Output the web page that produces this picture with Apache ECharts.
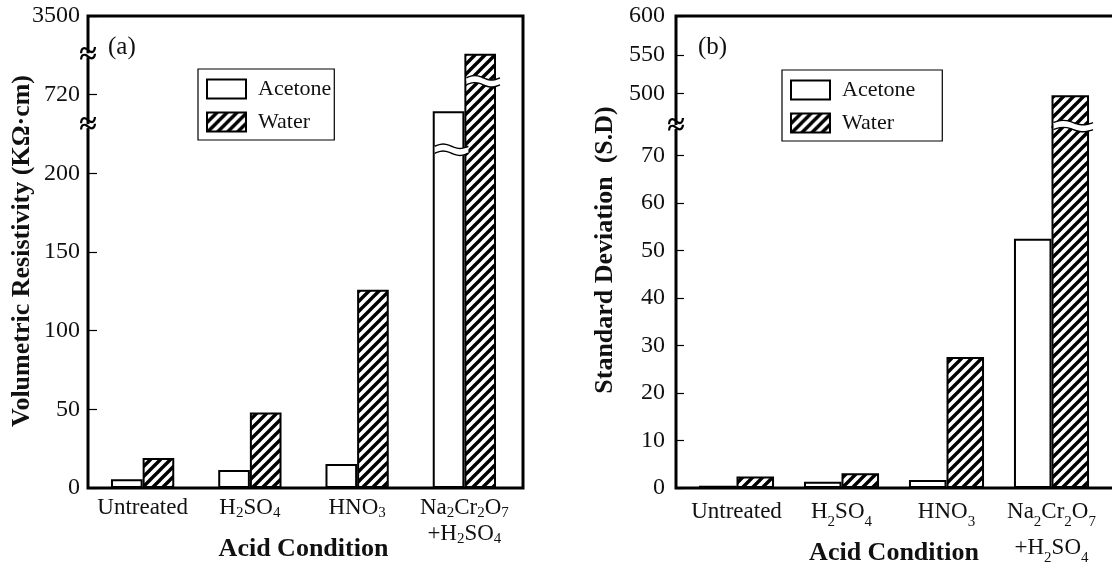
<!DOCTYPE html>
<html>
<head>
<meta charset="utf-8">
<script src="https://cdn.jsdelivr.net/npm/echarts@6.0.0/dist/echarts.min.js"></script>
<style>
  html, body { margin: 0; padding: 0; background: #fff; }
  #chart { width: 1112px; height: 565px; }
</style>
</head>
<body>
<div id="chart"></div>
<script>
var categories = ['Untreated', 'H2SO4', 'HNO3', 'Na2Cr2O7\n+H2SO4'];
var seriesNames = ['Acetone', 'Water'];

// (a) volumetric resistivity, KΩ·cm (broken axis)
var resistAcetone = [5.5, 11.4, 15.2, 709.5];
var resistWater = [19, 48, 126, 3476];
var resistTicks = [0, 50, 100, 150, 200, 720, 3500];
var resistBreaks = [[230, 700], [745, 3475]];
var resistWaves = [[3, 215, 0], [3, 728.5, 1]];   // [category, value, bar]

// (b) standard deviation (two stacked ranges)
var sdAcetone = [0.5, 1.3, 1.7, 52.5];
var sdWater = [2.4, 3.1, 27.6, 498];
var sdTicksLow = [0, 10, 20, 30, 40, 50, 60, 70];
var sdTicksHigh = [500, 550, 600];
var sdLowRange = [0, 76];
var sdHighRange = [457, 600];
var sdWaves = [[3, 76.2, 1]];

var FONT = '"Liberation Serif", "Times New Roman", serif';
var INK = '#111';

var chart = echarts.init(document.getElementById('chart'));

// diagonal hatch for the water bars
function hatch() {
  var c = document.createElement('canvas');
  c.width = 10; c.height = 10;
  var g = c.getContext('2d');
  g.fillStyle = '#fff';
  g.fillRect(0, 0, 10, 10);
  g.strokeStyle = '#000';
  g.lineWidth = 3.4;
  g.beginPath();
  g.moveTo(-2, 12); g.lineTo(12, -2);
  g.moveTo(-2, 2); g.lineTo(2, -2);
  g.moveTo(8, 12); g.lineTo(12, 8);
  g.stroke();
  return c;
}
var styles = [
  { color: '#fff', borderColor: '#000', borderWidth: 2 },
  { color: { image: hatch(), repeat: 'repeat' }, borderColor: '#000', borderWidth: 2 }
];

// H2SO4 -> rich text with subscripts
function chem(s) {
  return s.split('\n').map(function (line) {
    return line.replace(/([^\d]+)|(\d+)/g, function (m, a, d) {
      return a ? '{n|' + a + '}' : '{s|' + d + '}';
    });
  }).join('\n');
}
function rich(lh) {
  return {
    n: { fontFamily: FONT, fontSize: 23, lineHeight: lh, color: INK },
    s: { fontFamily: FONT, fontSize: 15, lineHeight: 14, verticalAlign: 'bottom', color: INK }
  };
}

function frameGrid(left, width) {
  return { left: left, top: 16, width: width, height: 472, show: true,
    borderColor: '#000', borderWidth: 3, backgroundColor: 'transparent', z: 10,
    containLabel: false, outerBoundsMode: 'none' };
}
function plainGrid(left, top, width, height) {
  return { left: left, top: top, width: width, height: height,
    containLabel: false, outerBoundsMode: 'none' };
}

function valueAxis(grid, range, ticks, offset, margin) {
  return {
    type: 'value', gridIndex: grid, min: range[0], max: range[1], offset: offset,
    splitLine: { show: false },
    axisLine: { show: false },
    axisTick: { show: true, inside: true, length: 8, customValues: ticks,
      lineStyle: { color: '#000', width: 1.2 } },
    axisLabel: { customValues: ticks, margin: margin,
      formatter: function (v) { return String(v); },
      fontFamily: FONT, fontSize: 24, color: INK }
  };
}
function catAxis(grid, showLabels, lh, margin, nameGap) {
  var ax = {
    type: 'category', gridIndex: grid, data: categories,
    axisLine: { show: false }, axisTick: { show: false },
    axisLabel: { show: showLabels, interval: 0, margin: margin,
      formatter: chem, rich: rich(lh) }
  };
  if (showLabels) {
    ax.name = 'Acid Condition';
    ax.nameLocation = 'middle';
    ax.nameGap = nameGap;
    ax.nameMoveOverlap = false;
    ax.nameTextStyle = { fontFamily: FONT, fontSize: 26, fontWeight: 'bold', color: INK };
  }
  return ax;
}

function bars(axisIdx, values, k, gap) {
  return {
    type: 'bar', name: seriesNames[k], xAxisIndex: axisIdx, yAxisIndex: axisIdx,
    data: values, barGap: '0%', barCategoryGap: gap, clip: true,
    itemStyle: styles[k], silent: true
  };
}

// white wavy cut drawn across a bar
function waves(axisIdx, data, gapFrac) {
  return {
    type: 'custom', xAxisIndex: axisIdx, yAxisIndex: axisIdx, z: 6, silent: true,
    data: data,
    renderItem: function (params, api) {
      var p = api.coord([api.value(0), api.value(1)]);
      var bw = api.size([1, 0])[0] * (1 - gapFrac) / 2;
      var x0 = (api.value(2) ? p[0] : p[0] - bw) + 2;
      var x1 = x0 + bw + 2;
      var top = [], bot = [], n = 12;
      for (var i = 0; i <= n; i++) {
        var x = x0 + (x1 - x0) * i / n;
        var dy = 2.2 * Math.sin(2 * Math.PI * i / n);
        top.push([x, p[1] - 3.5 - dy]);
        bot.push([x, p[1] + 3.5 - dy]);
      }
      var line = { stroke: '#000', lineWidth: 1.4, fill: null };
      return { type: 'group', children: [
        { type: 'polygon', shape: { points: top.concat(bot.slice().reverse()) }, style: { fill: '#fff' } },
        { type: 'polyline', shape: { points: top, smooth: 0.4 }, style: line },
        { type: 'polyline', shape: { points: bot, smooth: 0.4 }, style: line }
      ] };
    }
  };
}

function legend(left, top, padRight) {
  return {
    data: seriesNames, orient: 'vertical', left: left, top: top,
    itemWidth: 39, itemHeight: 19, itemGap: 11, icon: 'rect',
    padding: [9, padRight, 7, 8], borderColor: '#000', borderWidth: 1.2,
    selectedMode: false,
    textStyle: { fontFamily: FONT, fontSize: 22, color: INK, lineHeight: 19, padding: [0, 0, 0, 7] }
  };
}

var yA = valueAxis(1, [0, 3500], resistTicks, 0, 9);
yA.breaks = resistBreaks.map(function (b) { return { start: b[0], end: b[1], gap: 0 }; });
yA.breakArea = { show: false };

var option = {
  animation: false,
  backgroundColor: '#fff',
  grid: [
    frameGrid(88, 435),
    plainGrid(89, 16, 429, 472),
    frameGrid(676, 460),
    plainGrid(684, 16, 420, 111),
    plainGrid(684, 127, 420, 361)
  ],
  xAxis: [
    { type: 'value', gridIndex: 0, show: false },
    catAxis(1, true, 26, 7, 48),
    { type: 'value', gridIndex: 2, show: false },
    catAxis(3, false, 26, 6, 0),
    catAxis(4, true, 36, 6, 52)
  ],
  yAxis: [
    { type: 'value', gridIndex: 0, show: false },
    yA,
    { type: 'value', gridIndex: 2, show: false },
    valueAxis(3, sdHighRange, sdTicksHigh, 8, 11),
    valueAxis(4, sdLowRange, sdTicksLow, 8, 11)
  ],
  legend: [legend(198, 69, 3), legend(782, 70, 27)],
  series: [
    bars(1, resistAcetone, 0, '41%'),
    bars(1, resistWater, 1, '41%'),
    waves(1, resistWaves, 0.41),
    bars(3, sdAcetone, 0, '28.5%'),
    bars(3, sdWater, 1, '28.5%'),
    bars(4, sdAcetone, 0, '28.5%'),
    bars(4, sdWater, 1, '28.5%'),
    waves(4, sdWaves, 0.285)
  ]
};
chart.setOption(option);

// break marks on the left axis lines and panel texts
var marks = resistBreaks.map(function (b) {
  return [88, chart.convertToPixel({ yAxisIndex: 1 }, b[0])];
});
marks.push([676, chart.convertToPixel({ yAxisIndex: 4 }, sdLowRange[1])]);

var graphics = [];
marks.forEach(function (m) {
  graphics.push({ type: 'rect', z: 20, shape: { x: m[0] - 3, y: m[1] - 2, width: 6, height: 4 },
    style: { fill: '#fff' } });
  graphics.push({ type: 'text', z: 21, x: m[0], y: m[1],
    style: { text: '\u2248', font: 'bold 32px ' + FONT, fill: '#000', align: 'center', verticalAlign: 'middle' } });
});
graphics.push({ type: 'text', x: 108, y: 47,
  style: { text: '(a)', font: '25px ' + FONT, fill: INK, verticalAlign: 'middle' } });
graphics.push({ type: 'text', x: 698, y: 47,
  style: { text: '(b)', font: '25px ' + FONT, fill: INK, verticalAlign: 'middle' } });
graphics.push({ type: 'text', x: 22, y: 251, rotation: Math.PI / 2,
  style: { text: 'Volumetric Resistivity (K\u03A9\u00B7cm)', font: 'bold 26px ' + FONT, fill: INK,
    align: 'center', verticalAlign: 'middle' } });
graphics.push({ type: 'text', x: 605, y: 250, rotation: Math.PI / 2,
  style: { text: 'Standard Deviation  (S.D)', font: 'bold 26px ' + FONT, fill: INK,
    align: 'center', verticalAlign: 'middle' } });

chart.setOption({ graphic: graphics });
</script>
</body>
</html>
